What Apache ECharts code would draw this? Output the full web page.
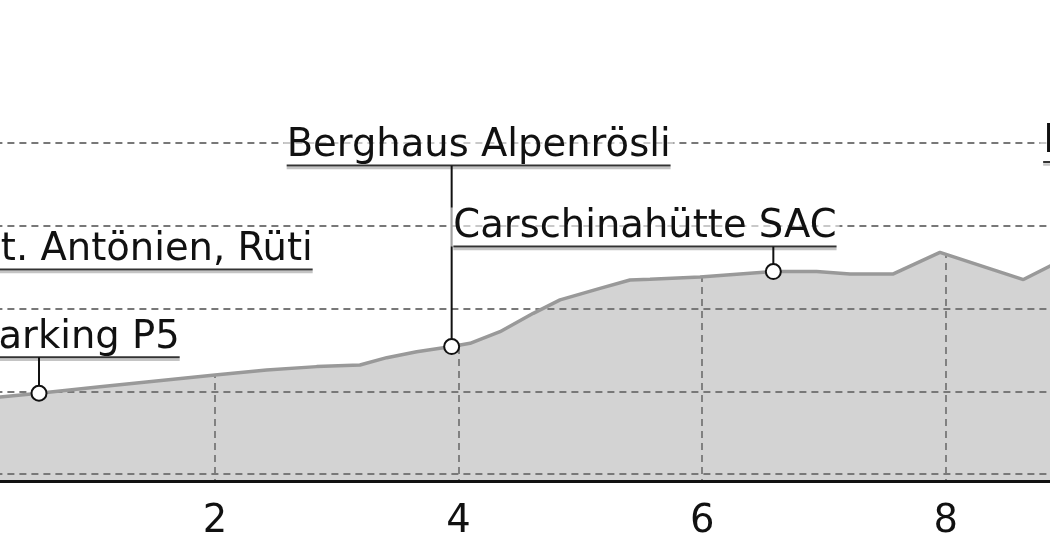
<!DOCTYPE html>
<html>
<head>
<meta charset="utf-8">
<title>Höhenprofil</title>
<script src="https://cdn.jsdelivr.net/npm/echarts@6/dist/echarts.min.js"></script>
<style>
    html, body { margin: 0; padding: 0; background: #fff; }
    #main { width: 1050px; height: 560px; }
</style>
</head>
<body>
<div id="main"></div>
<script>
// Höhenprofil: Distanz (km) / Höhe (m ü. M.)
var distKm = [0, 0.235, 0.555, 1.056, 2.0, 2.424, 2.835, 3.19, 3.41, 3.656, 3.943, 4.094, 4.34, 4.613,
    4.833, 5.161, 5.407, 5.571, 5.982, 6.584, 6.94, 7.213, 7.569, 7.952, 8.637, 8.856, 9.3];
var elevM = [1450, 1466, 1488, 1528, 1598, 1629, 1649, 1659, 1703, 1739, 1770, 1790, 1860, 1971,
    2052, 2122, 2172, 2177, 2190, 2223, 2223, 2209, 2209, 2339, 2175, 2257, 2342];

// Wegpunkte
var wpNames = ['St. Antönien, Rüti', 'Parking P5', 'Berghaus Alpenrösli', 'Carschinahütte SAC', 'Drusator'];
var wpKm = [0, 0.555, 3.943, 6.584, 9.3];
var wpElev = [1450, 1488, 1770, 2223, 2342];

// x-Achse
var xMin = 0, xMax = 10, xStep = 2;

// Beschriftungs-Layout (px): Textanfang relativ zum Punkt, Höhe der Unterstreichung über dem Punkt
var labelLayout = [
    {dx: 5, rise: 130},
    {dx: -62, rise: 36},
    {dx: -165, rise: 181},
    {dx: -320, rise: 25},
    {dx: -61, rise: 90}
];

var FONT = '38.5px "DejaVu Sans"';
var measureCtx = document.createElement('canvas').getContext('2d');
measureCtx.font = FONT;

var profile = distKm.map(function (k, i) { return [k, elevM[i]]; });
var waypoints = wpNames.map(function (n, i) { return [wpKm[i], wpElev[i], n]; });

function renderWaypoint(params, api) {
    var pt = api.coord([api.value(0), api.value(1)]);
    var name = wpNames[params.dataIndex];
    var lay = labelLayout[params.dataIndex];
    var w = measureCtx.measureText(name).width;
    var left = pt[0] + lay.dx;
    var uy = pt[1] - lay.rise;
    var r = 7.5;
    return {
        type: 'group',
        children: [
            {
                type: 'text',
                x: left - 3,
                y: uy,
                style: {
                    text: name,
                    font: FONT,
                    fill: '#111',
                    align: 'left',
                    verticalAlign: 'bottom',
                    backgroundColor: 'rgba(255,255,255,0.6)',
                    padding: [0, 3, 0, 3]
                }
            },
            {
                type: 'line',
                shape: {x1: left, y1: uy + 2.5, x2: left + w, y2: uy + 2.5},
                style: {stroke: '#c4c4c4', lineWidth: 2.5}
            },
            {
                type: 'line',
                shape: {x1: left, y1: uy, x2: left + w, y2: uy},
                style: {stroke: '#333', lineWidth: 2}
            },
            {
                type: 'line',
                shape: {x1: pt[0], y1: uy, x2: pt[0], y2: pt[1] - r},
                style: {stroke: '#111', lineWidth: 2}
            },
            {
                type: 'circle',
                shape: {cx: pt[0], cy: pt[1], r: r},
                style: {fill: '#fff', stroke: '#111', lineWidth: 2}
            }
        ]
    };
}

var dashStyle = {color: '#787878', width: 1.8, type: [7, 5]};

var option = {
    animation: false,
    backgroundColor: '#fff',
    grid: {left: -28.6, top: 143, width: 1218, bottom: 79, containLabel: false, outerBoundsMode: 'none'},
    xAxis: {
        type: 'value',
        min: xMin,
        max: xMax,
        interval: xStep,
        z: 2,
        axisLine: {show: true, onZero: false, lineStyle: {color: '#111', width: 3}},
        axisTick: {show: false},
        axisLabel: {
            margin: 21,
            fontSize: 38.5,
            fontFamily: 'DejaVu Sans',
            color: '#111'
        },
        splitLine: {show: true, lineStyle: dashStyle}
    },
    yAxis: {
        type: 'value',
        min: 958,
        max: 3000,
        splitNumber: 4,
        z: 4,
        axisLine: {show: false},
        axisTick: {show: false},
        axisLabel: {show: false},
        splitLine: {show: true, showMinLine: false, lineStyle: dashStyle}
    },
    series: [
        {
            // graue Fläche unter dem Profil
            type: 'line',
            data: profile,
            symbol: 'none',
            z: 1,
            lineStyle: {width: 0},
            areaStyle: {color: '#d3d3d3', origin: 'start', opacity: 1}
        },
        {
            // weisse Fläche über dem Profil (verdeckt die senkrechten Gitterlinien)
            type: 'line',
            data: profile,
            symbol: 'none',
            z: 3,
            lineStyle: {width: 0},
            areaStyle: {color: '#fff', origin: 'end', opacity: 1}
        },
        {
            type: 'line',
            data: profile,
            symbol: 'none',
            z: 5,
            lineStyle: {color: '#999', width: 3.5}
        },
        {
            type: 'custom',
            coordinateSystem: 'cartesian2d',
            data: waypoints,
            encode: {x: 0, y: 1},
            z: 6,
            clip: false,
            renderItem: renderWaypoint
        }
    ]
};

var myChart = echarts.init(document.getElementById('main'));
myChart.setOption(option);
</script>
</body>
</html>
